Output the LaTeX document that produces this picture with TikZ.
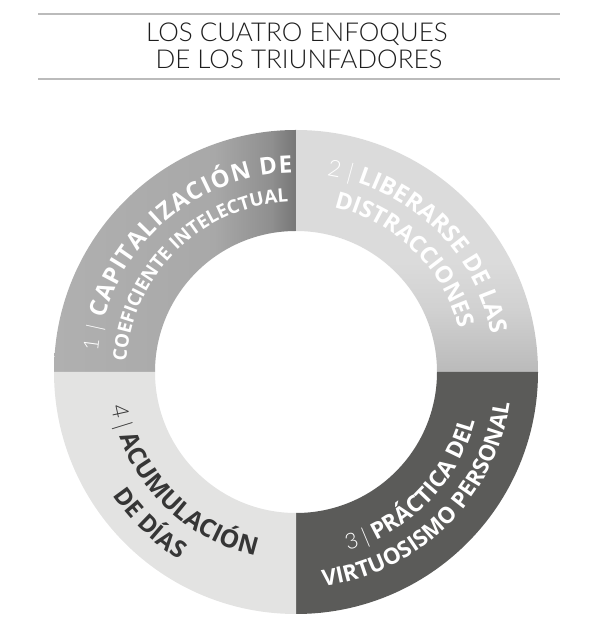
\documentclass[tikz,border=0pt]{standalone}
\usepackage{fontspec}
\IfFontExistsTF{Lato Light}{\setmainfont{Lato Light}}{\setmainfont{Lato}}
\newfontfamily\osans{Open Sans}
\usetikzlibrary{decorations.text}
\definecolor{qthree}{HTML}{5B5B59}
\definecolor{qfour}{HTML}{E3E3E2}
\definecolor{rulec}{HTML}{BBBBBB}
\definecolor{titlec}{HTML}{1E1E1E}
\definecolor{darktext}{HTML}{363636}
\pgfdeclarehorizontalshading{qoneshade}{100bp}{color(0bp)=(black!31); color(25bp)=(black!31); color(58bp)=(black!34); color(70bp)=(black!44); color(73bp)=(black!50); color(75bp)=(black!53); color(100bp)=(black!53)}
\pgfdeclareverticalshading{qtwoshade}{100bp}{color(0bp)=(black!27); color(25bp)=(black!27); color(38bp)=(black!18); color(48bp)=(black!14); color(75bp)=(black!14); color(100bp)=(black!14)}
\newcommand{\fsz}[1]{\osans\bfseries\fontsize{#1}{#1}\selectfont}
\newcommand{\fnum}[1]{\rmfamily\fontsize{#1}{#1}\selectfont}
\tikzset{
  ringtext/.style n args={2}{decorate, decoration={text along path, text format delimiters={[}{]}, text align=center, text color=#1, text={#2}}},
  ringfit/.style n args={2}{decorate, decoration={text along path, text format delimiters={[}{]}, text align={fit to path=true}, text color=#1, text={#2}}},
  titletext/.style={text=titlec, font=\fontsize{26}{26}\selectfont, inner sep=0pt},
  rule/.style={draw=rulec, line width=2pt}
}
\begin{document}
\begin{tikzpicture}[x=1pt,y=1pt]
\useasboundingbox (0,0) rectangle (600,637);
\def\Ro{242}
\def\Ri{141}
\coordinate (c) at (296,265);
% quadrant 1 (top-left)
\begin{scope}
  \clip ([shift={(180:\Ro)}]c) arc[start angle=180,end angle=90,radius=\Ro] -- ([shift={(90:\Ri)}]c) arc[start angle=90,end angle=180,radius=\Ri] -- cycle;
  \shade[shading=qoneshade] ([shift={(-\Ro,0)}]c) rectangle ([shift={(0,\Ro)}]c);
\end{scope}
% quadrant 2 (top-right)
\begin{scope}
  \clip ([shift={(90:\Ro)}]c) arc[start angle=90,end angle=0,radius=\Ro] -- ([shift={(0:\Ri)}]c) arc[start angle=0,end angle=90,radius=\Ri] -- cycle;
  \shade[shading=qtwoshade] (c) rectangle ([shift={(\Ro,\Ro)}]c);
\end{scope}
% quadrant 3 (bottom-right)
\fill[qthree] ([shift={(0:\Ro)}]c) arc[start angle=0,end angle=-90,radius=\Ro] -- ([shift={(-90:\Ri)}]c) arc[start angle=-90,end angle=0,radius=\Ri] -- cycle;
% quadrant 4 (bottom-left)
\fill[qfour] ([shift={(-90:\Ro)}]c) arc[start angle=-90,end angle=-180,radius=\Ro] -- ([shift={(180:\Ri)}]c) arc[start angle=180,end angle=270,radius=\Ri] -- cycle;
% texts quadrant 1
\path[ringfit={white}{[\fnum{21}]1 |[\fsz{24}] CAPITALIZACIÓN DE}] ([shift={(174:199)}]c) arc[start angle=174,end angle=91,radius=199];
\path[ringtext={white}{[\fsz{18.8}]COEFICIENTE INTELECTUAL}] ([shift={(180:170)}]c) arc[start angle=180,end angle=89,radius=170];
% texts quadrant 2
\path[ringtext={white}{[\fnum{23}]2 |[\fsz{24}] LIBERARSE DE LAS}] ([shift={(91:199)}]c) arc[start angle=91,end angle=1,radius=199];
\path[ringtext={white}{[\fsz{23.3}]DISTRACCIONES}] ([shift={(91:169)}]c) arc[start angle=91,end angle=1,radius=169];
% texts quadrant 3
\path[ringtext={white}{[\fnum{22}]3 |[\fsz{23}] PRÁCTICA DEL}] ([shift={(-89.5:186)}]c) arc[start angle=-89.5,end angle=0.5,radius=186];
\path[ringtext={white}{[\fsz{22.5}]VIRTUOSISMO PERSONAL}] ([shift={(-90.5:216)}]c) arc[start angle=-90.5,end angle=-0.5,radius=216];
% texts quadrant 4
\path[ringtext={darktext}{[\fnum{23}]4 |[\fsz{24.8}] ACUMULACIÓN}] ([shift={(179:188)}]c) arc[start angle=179,end angle=269,radius=188];
\path[ringtext={darktext}{[\fsz{24}]DE DÍAS}] ([shift={(181:221)}]c) arc[start angle=181,end angle=271,radius=221];
% title
\coordinate (r1a) at (38,623);
\coordinate (r1b) at (560,623);
\coordinate (r2a) at (38,558);
\coordinate (r2b) at (560,558);
\draw[rule] (r1a) -- (r1b);
\draw[rule] (r2a) -- (r2b);
\node[titletext] (t1) at (297,603) {LOS CUATRO ENFOQUES};
\node[titletext] (t2) at (299,578) {DE LOS TRIUNFADORES};
\end{tikzpicture}
\end{document}
